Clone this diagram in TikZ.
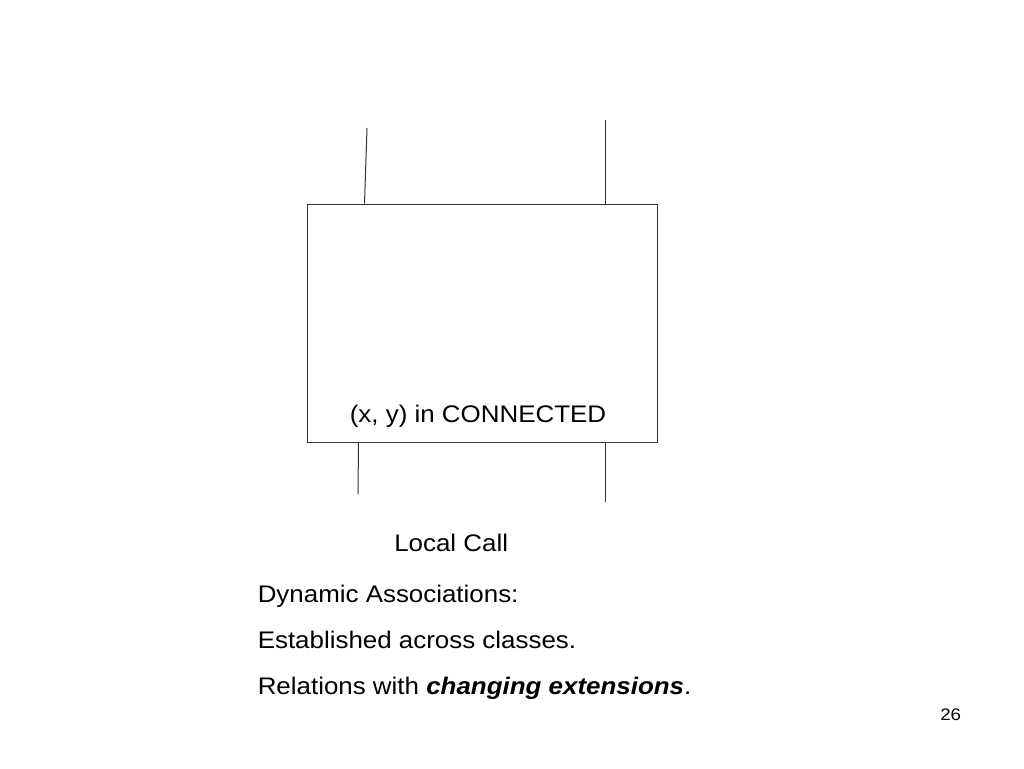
\documentclass[tikz,border=0pt]{standalone}
\usepackage{fontspec}
\setmainfont{Liberation Sans}
\newfontfamily\slidefont[FakeStretch=1.08]{Liberation Sans}
\newfontfamily\pagefont[FakeStretch=1.12]{Liberation Sans}
\usepackage{tikz}

\tikzset{
  wire/.style={line width=0.75pt, draw=black!80},
  slidetext/.style={inner sep=0pt, font=\slidefont\fontsize{18}{22}\selectfont}
}

\begin{document}
\begin{tikzpicture}[x=0.75pt,y=0.75pt,yscale=-1,xscale=1]

\useasboundingbox (0,0) rectangle (1024,768);

% box
\node (box) [draw=black!80, line width=0.75pt, minimum width=262.5pt, minimum height=178.5pt, inner sep=0pt] at (482,323) {};

\node (conn) [slidetext, anchor=base] at (478,422) {(x, y) in CONNECTED};

% free ends of the wires
\coordinate (lt) at (367,128);
\coordinate (rt) at (605,120);
\coordinate (lb) at (358,494);
\coordinate (rb) at (605,502);

\draw [wire] (lt) -- ([xshift=43.5pt]box.north west);
\draw [wire] (rt) -- (rt |- box.north);
\draw [wire] ([xshift=39pt]box.south west) -- (lb);
\draw [wire] (rt |- box.south) -- (rb);

% texts
\node (call) [slidetext, anchor=base west] at (394,551) {Local Call};
\node (dyn) [slidetext, anchor=base west] at (257.5,602.5) {Dynamic Associations:};
\node (est) [slidetext, anchor=base west] at (257.5,648) {Established across classes.};
\node (rel) [slidetext, anchor=base west] at (257.5,694) {Relations with \textbf{\textit{changing extensions}}.};

\node (page) [inner sep=0pt, anchor=base west, font=\pagefont\fontsize{12.5}{15}\selectfont] at (940,720) {26};

\end{tikzpicture}
\end{document}
